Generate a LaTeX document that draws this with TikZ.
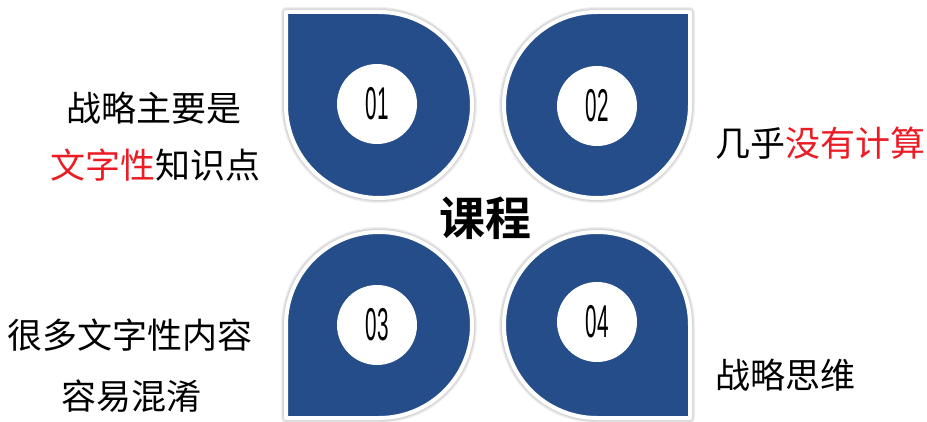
\documentclass[tikz,border=0pt]{standalone}
\usepackage{fontspec}
\setmainfont{Liberation Sans}
\newfontfamily\cjk{Noto Sans CJK SC}
\newfontfamily\cjkb{Noto Sans CJK SC Bold}
\newfontfamily\numfont{Liberation Sans}
\definecolor{dropblue}{RGB}{36,77,138}
\definecolor{hired}{RGB}{235,28,36}
\tikzset{
  drop/.style={fill=dropblue,draw=white,line width=4pt,line join=round},
  dropshade/.style={draw=black,opacity=0.06,line join=round},
  numcircle/.style={circle,fill=white,minimum size=80pt,inner sep=0pt},
  numtext/.style={font=\numfont\fontsize{46}{46}\selectfont},
  label/.style={font=\cjk\fontsize{35}{35}\selectfont,inner sep=0pt,anchor=center},
  title/.style={font=\cjkb\fontsize{46}{46}\selectfont,inner sep=0pt,anchor=center}
}
\newcommand{\narrow}[1]{\scalebox{0.45}[1]{#1}}
\newcommand{\dropA}{(286,409) -- (379,409) arc[start angle=90,end angle=-180,radius=93] -- cycle}
\newcommand{\dropB}{(690,409) -- (690,316) arc[start angle=0,end angle=-270,radius=93] -- cycle}
\newcommand{\dropC}{(286,3) -- (286,96) arc[start angle=180,end angle=-90,radius=93] -- cycle}
\newcommand{\dropD}{(690,3) -- (597,3) arc[start angle=-90,end angle=-360,radius=93] -- cycle}
\begin{document}
\begin{tikzpicture}[x=1pt,y=1pt]
\useasboundingbox (0,0) rectangle (927,421);
% soft shadows
\foreach \w in {10,8,6} {
  \draw[dropshade,line width=\w pt] \dropA;
  \draw[dropshade,line width=\w pt] \dropB;
  \draw[dropshade,line width=\w pt] \dropC;
  \draw[dropshade,line width=\w pt] \dropD;
}
% drops
\draw[drop] \dropA;
\draw[drop] \dropB;
\draw[drop] \dropC;
\draw[drop] \dropD;
% number circles
\node[numcircle,numtext] (c1) at (377,317) {\narrow{01}};
\node[numcircle,numtext] (c2) at (597,315) {\narrow{02}};
\node[numcircle,numtext] (c3) at (377,96) {\narrow{03}};
\node[numcircle,numtext] (c4) at (597,99) {\narrow{04}};
% title
\node[title] (t) at (485,203) {课程};
% labels
\node[label] (l1) at (154,313) {战略主要是};
\node[label] (l2) at (155,256) {\textcolor{hired}{文字性}知识点};
\node[label] (r1) at (820,278) {几乎\textcolor{hired}{没有计算}};
\node[label] (l3) at (130,86) {很多文字性内容};
\node[label] (l4) at (131,25) {容易混淆};
\node[label] (r2) at (785,46) {战略思维};
\end{tikzpicture}
\end{document}
